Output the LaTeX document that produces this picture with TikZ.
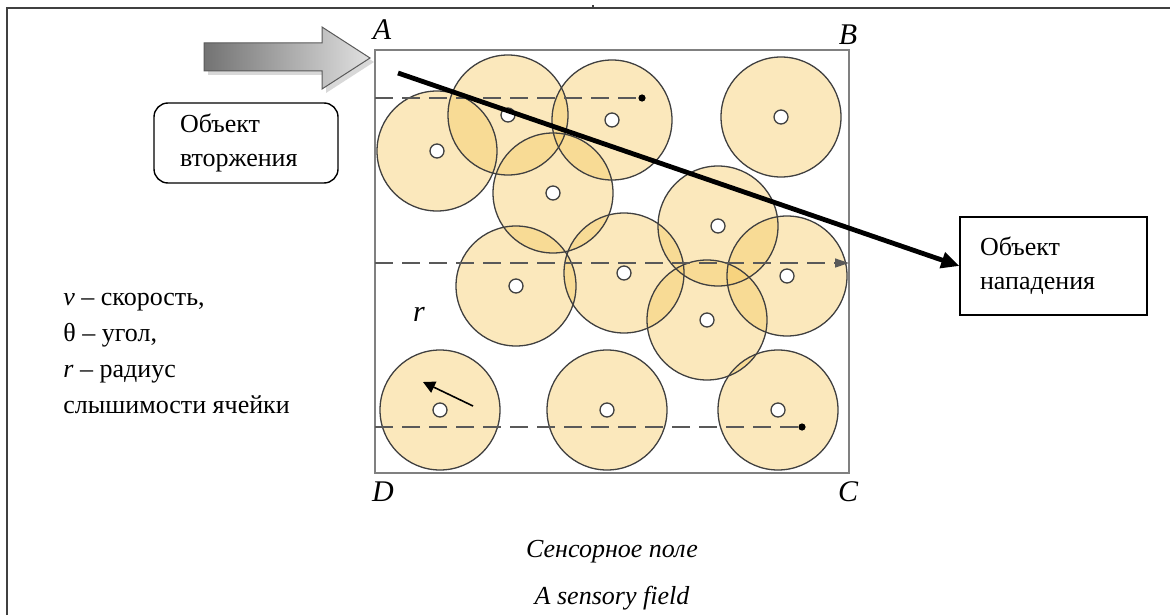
\documentclass[tikz,border=0pt]{standalone}
\usepackage{fontspec}
\setmainfont{Liberation Serif}
\usetikzlibrary{arrows.meta, positioning, shadows}

\definecolor{cellfill}{RGB}{245,200,95}
\definecolor{fieldgray}{RGB}{128,128,128}
\newcommand{\cellcentres}{437/151, 508/115, 612/120, 781/117, 553/193, 718/226,
    516/286, 624/273, 787/276, 707/320, 440/410, 607/410, 778/410}

\begin{document}
\begin{tikzpicture}[
        x=0.5pt, y=-0.5pt,
        font=\fontsize{13}{17}\selectfont,
        cell/.style={fill=cellfill, fill opacity=0.42},
        celledge/.style={draw=black!75, line width=0.65pt},
        sensor/.style={draw=black!75, fill=white, line width=0.65pt},
        track/.style={dash pattern=on 9pt off 4.5pt, draw=black!65, line width=0.6pt},
        roundbox/.style={rectangle, rounded corners=7pt, draw, line width=0.7pt,
                         align=left, text width=66pt, inner xsep=13pt, minimum height=40pt},
        plainbox/.style={rectangle, draw, line width=0.7pt,
                         align=left, text width=73.5pt, inner xsep=10pt, minimum height=49pt},
        corner/.style={font=\fontsize{15}{17}\selectfont\itshape, inner sep=0pt},
        attack/.style={-{Triangle[length=9pt,width=8pt]}, line width=2.4pt}
    ]
        \useasboundingbox (0,0) rectangle (1170,615);

        % table frame
        \draw[black!75, line width=1pt] (7,615) -- (7,8) -- (1170,8);
        \draw[black!75, line width=0.8pt] (593,5) -- (593,8);

        % sensory field
        \draw[fieldgray, line width=0.8pt] (375,50) rectangle (849,473);
        \foreach \cx/\cy in \cellcentres
            \fill[cell] (\cx,\cy) circle[radius=30pt];
        \foreach \cx/\cy in \cellcentres
            \draw[celledge] (\cx,\cy) circle[radius=30pt];
        \foreach \cx/\cy in \cellcentres
            \draw[sensor] (\cx,\cy) circle[radius=3.5pt];

        \node[corner] (A) at (382,30) {A};
        \node[corner] (B) at (848,35) {B};
        \node[corner] (C) at (848,492) {C};
        \node[corner] (D) at (383,492) {D};
        \node[corner] (rlabel) at (419,314) {r};

        % tracks
        \coordinate (t1s) at (375,98);
        \coordinate (t1e) at (642,98);
        \coordinate (t2s) at (375,263);
        \coordinate (t2e) at (849,263);
        \coordinate (t3s) at (375,427);
        \coordinate (t3e) at (802,427);
        \draw[track] (t1s) -- (t1e);
        \fill (t1e) circle[radius=1.8pt];
        \draw[track, -{Triangle[length=7pt,width=4.5pt]}] (t2s) -- (t2e);
        \draw[track] (t3s) -- (t3e);
        \fill (t3e) circle[radius=1.8pt];

        \coordinate (vfrom) at (473,406);
        \coordinate (vto) at (423,382);
        \draw[-{Triangle[length=6pt,width=6pt]}, line width=0.8pt] (vfrom) -- (vto);

        % intruder
        \draw[draw=black!65, line width=0.5pt, left color=black!55, right color=black!12,
              drop shadow={shadow xshift=2pt, shadow yshift=-2pt, fill=black!30}]
            (204,43) -- (322,43) -- (322,27) -- (370,58) -- (322,89) -- (322,71) -- (204,71) -- cycle;
        \node[roundbox] (intruder) at (246,143) {Объект\\вторжения};
        \node[plainbox] (target) at (1053.5,266) {Объект\\нападения};
        \coordinate (entry) at (398,73);
        \draw[attack] (entry) -- (target.west);

        % legend and caption
        \node[align=left, anchor=north west, inner sep=0pt,
              font=\fontsize{13}{18}\selectfont] (legend) at (63,293)
            {\textit{v} – скорость,\\θ – угол,\\\textit{r} – радиус\\слышимости ячейки};
        \node[font=\fontsize{13}{15}\selectfont\itshape] (caption) at (612,552) {Сенсорное поле};
        \node[font=\fontsize{13}{15}\selectfont\itshape] (caption2) at (612,598) {A sensory field};
    \end{tikzpicture}
\end{document}
